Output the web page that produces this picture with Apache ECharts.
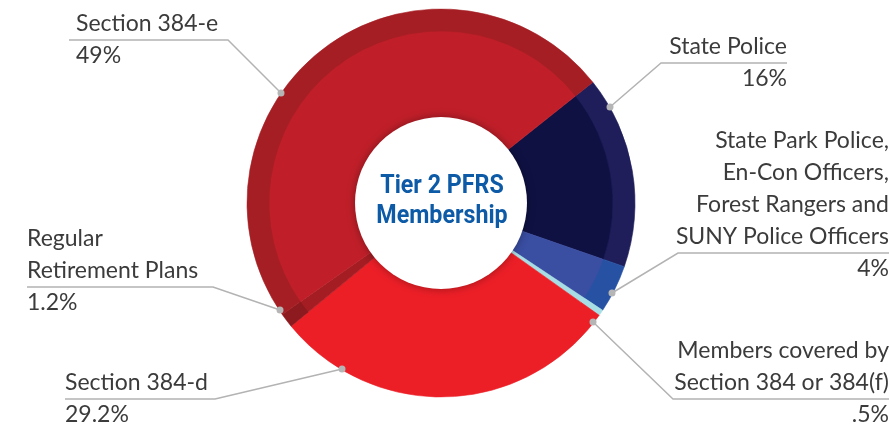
<!DOCTYPE html>
<html>
<head>
<meta charset="utf-8">
<script src="https://cdn.jsdelivr.net/npm/echarts@6/dist/echarts.min.js"></script>
<style>
  html, body { margin: 0; padding: 0; background: #fff; }
  #chart { width: 890px; height: 429px; }
</style>
</head>
<body>
<div id="chart"></div>
<script>
// 数据（顺时针，从 State Police 开始）
var names = ['State Police', 'State Park Police,\nEn-Con Officers,\nForest Rangers and\nSUNY Police Officers',
	'Members covered by\nSection 384 or 384(f)', 'Section 384-d', 'Regular\nRetirement Plans', 'Section 384-e'];
var values = [16, 4, 0.5, 29.2, 1.2, 49];
var percentLabels = ['16%', '4%', '.5%', '29.2%', '1.2%', '49%'];

// 颜色：内圈 / 外圈
var innerColors = ['#0f1143', '#3a4ea2', '#a7dde4', '#ec1f27', '#a31d23', '#c01f29'];
var outerColors = ['#1f1e5b', '#2752a4', '#a7dde4', '#ec1f27', '#8d1a1e', '#a51e24'];

// 标签位置：锚点、拐点、下划线终点
var labelPos = [
	{x: 787, y: 31, align: 'right', pts: [[610, 107], [661, 63], [787, 63]]},
	{x: 889, y: 125, align: 'right', pts: [[612, 293], [678, 253], [889, 253]]},
	{x: 889, y: 335, align: 'right', pts: [[593, 322], [673, 399], [889, 399]]},
	{x: 65, y: 367, align: 'left', pts: [[342, 369], [215, 399], [65, 399]]},
	{x: 27, y: 223, align: 'left', pts: [[280, 310], [213, 287], [27, 287]]},
	{x: 76, y: 8, align: 'left', pts: [[281, 93], [228, 40], [69, 40]]}
];

var center = [441, 203];

var myChart = echarts.init(document.getElementById('chart'));

var innerData = [], outerData = [];
for (var i = 0; i < names.length; i++) {
	innerData.push({name: names[i], value: values[i],
		itemStyle: {color: innerColors[i], borderColor: innerColors[i], borderWidth: 0.6}});
	outerData.push({name: names[i], value: values[i],
		itemStyle: {color: outerColors[i], borderColor: outerColors[i], borderWidth: 0.6}});
}

var dots = labelPos.map(function (p) {
	return {
		type: 'circle',
		shape: {cx: p.pts[0][0], cy: p.pts[0][1], r: 3.5},
		style: {fill: '#b5b5b5'},
		z: 100
	};
});

var option = {
	animation: false,
	series: [
		{
			type: 'pie',
			center: center,
			radius: [0, 173],
			startAngle: 38.5,
			clockwise: true,
			silent: true,
			z: 1,
			label: {show: false},
			labelLine: {show: false},
			data: innerData
		},
		{
			type: 'pie',
			center: center,
			radius: [172, 194],
			startAngle: 38.5,
			clockwise: true,
			silent: true,
			z: 2,
			label: {
				show: true,
				position: 'outer',
				overflow: 'none',
				formatter: function (p) {
					return '{n|' + p.name.split('\n').join('}\n{n|') + '}\n{n|' + percentLabels[p.dataIndex] + '}';
				},
				rich: {
					n: {fontFamily: 'Lato', fontSize: 23, lineHeight: 32, color: '#3b3b3b'}
				}
			},
			labelLine: {
				show: true,
				lineStyle: {color: '#b3b3b3', width: 1.5}
			},
			labelLayout: function (params) {
				var p = labelPos[params.dataIndex];
				return {
					x: p.x,
					y: p.y,
					align: p.align,
					verticalAlign: 'top',
					labelLinePoints: p.pts
				};
			},
			data: outerData
		}
	],
	graphic: [
		{
			type: 'circle',
			shape: {cx: center[0], cy: center[1], r: 86},
			style: {fill: '#ffffff', shadowBlur: 8, shadowColor: 'rgba(0,0,0,0.35)'},
			z: 50
		},
		{
			type: 'text',
			x: 442,
			y: 202,
			scaleX: 0.93,
			z: 60,
			style: {
				text: 'Tier 2 PFRS\nMembership',
				fontFamily: 'Roboto',
				fontWeight: 'bold',
				fontSize: 25,
				lineHeight: 30,
				fill: '#0d5aa7',
				align: 'center',
				verticalAlign: 'middle'
			}
		}
	].concat(dots)
};

myChart.setOption(option);
</script>
</body>
</html>
